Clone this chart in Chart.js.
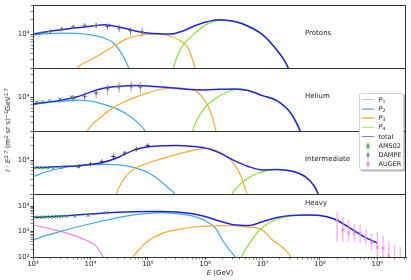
<!DOCTYPE html>
<html>
<head>
<meta charset="utf-8">
<script src="https://cdn.jsdelivr.net/npm/chart.js@4.4.1/dist/chart.umd.min.js"></script>
<style>
  html, body { margin: 0; padding: 0; background: #fff; }
  #wrap { position: relative; width: 411px; height: 280px; font-family: "DejaVu Sans", sans-serif; color: #222; overflow: hidden; }
  #chart { position: absolute; left: 0; top: 0; }
  .lab { position: absolute; font-size: 7px; line-height: 8px; white-space: nowrap; }
  sup { font-size: 5px; vertical-align: 2.5px; line-height: 0; }
  sub { font-size: 4.6px; vertical-align: -1.2px; line-height: 0; }
  #ytitle { position: absolute; left: 8px; top: 130px; transform: translate(-50%, -50%) rotate(-90deg); font-size: 7px; white-space: nowrap; line-height: 8px; }
  #legend { position: absolute; left: 359px; top: 93px; width: 45px; height: 77px; border: 1px solid #d4d4d4; border-radius: 2px; background: #fff; box-shadow: 1.5px 1.5px 0 rgba(0,0,0,0.28); box-sizing: border-box; }
  #legend .row { position: absolute; left: 0; height: 8px; width: 44px; }
  #legend .ln { position: absolute; left: 2px; top: 3.3px; width: 11.5px; height: 1.5px; }
  #legend .tx { position: absolute; left: 18.5px; top: 0; font-size: 6.5px; line-height: 8px; white-space: nowrap; }
  #legend svg { position: absolute; left: 2px; top: 0; }
</style>
</head>
<body>
<div id="wrap">
  <canvas id="chart" width="411" height="280"></canvas>
  <div class="lab" style="left:305px;top:29px">Protons</div>
  <div class="lab" style="left:305px;top:92px">Helium</div>
  <div class="lab" style="left:305px;top:155px">Intermediate</div>
  <div class="lab" style="left:305px;top:199px">Heavy</div>
  <div class="lab" style="left:220px;top:268.5px;transform:translateX(-50%)"><i>E</i> (GeV)</div>
  <div id="ytitle"><i>I</i> · <i>E</i><sup>2.7</sup> (m<sup>2</sup> sr s)<sup>−1</sup>GeV<sup>1.7</sup></div>
  <div id="legend">
    <div class="row" style="top:1.7px"><span class="ln" style="background:rgba(238,130,238,0.6)"></span><span class="tx"><i>P</i><sub>1</sub></span></div>
    <div class="row" style="top:10.9px"><span class="ln" style="background:rgba(63,169,245,0.6)"></span><span class="tx"><i>P</i><sub>2</sub></span></div>
    <div class="row" style="top:20.1px"><span class="ln" style="background:rgba(255,166,43,0.7)"></span><span class="tx"><i>P</i><sub>3</sub></span></div>
    <div class="row" style="top:29.3px"><span class="ln" style="background:rgba(133,230,44,0.7)"></span><span class="tx"><i>P</i><sub>4</sub></span></div>
    <div class="row" style="top:38.5px"><span class="ln" style="background:rgba(43,43,223,0.6)"></span><span class="tx">total</span></div>
    <div class="row" style="top:47.7px"><svg width="12" height="8"><line x1="6" y1="0.5" x2="6" y2="7.5" stroke="#2ca02c" stroke-width="1"/><path d="M4.3 2.3 L7.7 5.7 M7.7 2.3 L4.3 5.7" stroke="#2ca02c" stroke-width="1"/></svg><span class="tx">AMS02</span></div>
    <div class="row" style="top:56.9px"><svg width="12" height="8"><line x1="6" y1="0.5" x2="6" y2="7.5" stroke="#999" stroke-width="1"/><path d="M6 2 L6 6 M4 4 L8 4" stroke="#777" stroke-width="1"/></svg><span class="tx">DAMPE</span></div>
    <div class="row" style="top:66.1px"><svg width="12" height="8"><line x1="6" y1="0.5" x2="6" y2="7.5" stroke="rgba(238,130,238,0.6)" stroke-width="1.5"/><path d="M4.3 2.3 L7.7 5.7 M7.7 2.3 L4.3 5.7" stroke="#e07be0" stroke-width="1"/></svg><span class="tx">AUGER</span></div>
  </div>
</div>
<script>
// axis ranges
const xMin = 1e3, xMax = 3.162e9;
const yLightMin = 2e3, yLightMax = 4e4;
const yHeavyMin = 1e2, yHeavyMax = 3e4;

// Protons
const protonTotalE = [1e3, 1.778e3, 3.162e3, 5.623e3, 1e4, 1.778e4, 3.162e4, 5.623e4, 1e5, 1.778e5, 2.512e5, 3.981e5, 6.31e5, 1e6, 1.778e6, 3.162e6, 5.623e6, 1e7, 1.585e7, 2.512e7, 3.162e7];
const protonTotal = [1.02e4, 1.135e4, 1.245e4, 1.365e4, 1.47e4, 1.58e4, 1.42e4, 1.2e4, 1.06e4, 1.02e4, 1.01e4, 1.16e4, 1.47e4, 1.78e4, 2.0e4, 1.86e4, 1.47e4, 9.85e3, 5.57e3, 2.62e3, 1.48e3];
const protonP2E = [1e3, 1.778e3, 3.162e3, 5.623e3, 1e4, 1.585e4, 2.512e4, 3.548e4, 4.677e4, 5.623e4];
const protonP2 = [9.77e3, 1.03e4, 1.064e4, 1.047e4, 9.77e3, 8.71e3, 6.61e3, 3.89e3, 2.0e3, 1.12e3];
const protonP3E = [5.012e3, 6.31e3, 1e4, 1.585e4, 2.512e4, 3.981e4, 6.31e4, 1e5, 1.585e5, 2.512e5, 3.548e5, 5.012e5, 6.31e5, 7.079e5];
const protonP3 = [1.41e3, 2.19e3, 2.95e3, 4.07e3, 5.62e3, 7.76e3, 9.33e3, 1.01e4, 1.023e4, 9.12e3, 7.59e3, 5.25e3, 2.51e3, 1.41e3];
const protonP4E = [2.512e5, 2.818e5, 3.162e5, 3.981e5, 6.31e5, 1e6, 1.778e6, 3.162e6, 5.623e6, 1e7, 1.585e7, 2.512e7, 3.162e7];
const protonP4 = [1.0e3, 2.04e3, 3.16e3, 5.62e3, 1.0e4, 1.55e4, 1.95e4, 1.85e4, 1.46e4, 9.77e3, 5.56e3, 2.6e3, 1.48e3];

// Helium
const heliumTotalE = [1e3, 1.778e3, 3.162e3, 5.623e3, 1e4, 1.778e4, 3.162e4, 5.623e4, 1e5, 1.778e5, 3.162e5, 5.623e5, 1e6, 1.778e6, 3.162e6, 5.623e6, 1e7, 1.778e7, 3.162e7, 4.467e7, 5.248e7];
const heliumTotal = [7.28e3, 7.94e3, 8.73e3, 1.01e4, 1.28e4, 1.55e4, 1.68e4, 1.75e4, 1.71e4, 1.63e4, 1.53e4, 1.44e4, 1.42e4, 1.46e4, 1.49e4, 1.38e4, 1.08e4, 8.51e3, 4.57e3, 2.09e3, 1.26e3];
const heliumP2E = [1e3, 1.778e3, 3.162e3, 5.623e3, 1e4, 1.778e4, 3.162e4, 5.012e4, 7.079e4, 8.913e4, 1.122e5];
const heliumP2 = [7.05e3, 7.76e3, 8.24e3, 8.73e3, 8.32e3, 7.05e3, 5.5e3, 3.98e3, 2.82e3, 2.03e3, 1.12e3];
const heliumP3E = [7.943e3, 8.913e3, 1e4, 1.585e4, 2.512e4, 3.981e4, 6.31e4, 1e5, 1.585e5, 3.162e5, 5.012e5, 7.079e5, 1e6, 1.259e6, 1.549e6, 1.778e6];
const heliumP3 = [1.41e3, 2.04e3, 2.51e3, 4.07e3, 6.17e3, 8.13e3, 1.02e4, 1.23e4, 1.45e4, 1.57e4, 1.48e4, 1.32e4, 8.32e3, 4.79e3, 2.0e3, 1.12e3];
const heliumP4E = [5.012e5, 6.026e5, 7.079e5, 1e6, 1.585e6, 2.512e6, 3.981e6, 5.623e6, 1e7, 1.778e7, 3.162e7, 4.467e7, 5.248e7];
const heliumP4 = [1e3, 2.04e3, 3.31e3, 6.17e3, 9.77e3, 1.32e4, 1.49e4, 1.37e4, 1.08e4, 8.47e3, 4.55e3, 2.08e3, 1.26e3];

// Intermediate
const interTotalE = [1e3, 1.778e3, 3.162e3, 5.623e3, 1e4, 1.778e4, 3.162e4, 5.623e4, 1e5, 1.778e5, 3.162e5, 5.623e5, 1e6, 1.778e6, 3.162e6, 5.623e6, 1e7, 1.778e7, 3.162e7, 5.623e7, 7.943e7, 9.333e7, 1.122e8];
const interTotal = [7.03e3, 7.16e3, 7.45e3, 7.62e3, 8.18e3, 9.23e3, 1.17e4, 1.6e4, 1.89e4, 2.0e4, 2.01e4, 1.95e4, 1.8e4, 1.42e4, 9.91e3, 7.45e3, 6.31e3, 6.46e3, 6.0e3, 4.51e3, 2.93e3, 2.0e3, 1.12e3];
const interP2E = [1e3, 1.778e3, 3.162e3, 5.623e3, 1e4, 1.778e4, 3.162e4, 5.623e4, 1e5, 1.585e5, 2.239e5, 2.951e5, 3.548e5];
const interP2 = [4.57e3, 5.86e3, 6.92e3, 7.69e3, 8.11e3, 8.18e3, 8.0e3, 7.1e3, 5.58e3, 3.89e3, 2.73e3, 2.0e3, 1.26e3];
const interP3E = [2.512e4, 2.818e4, 3.548e4, 5.012e4, 7.943e4, 1.259e5, 1.995e5, 3.162e5, 5.012e5, 7.943e5, 1.122e6, 1.585e6, 2.239e6, 3.162e6, 4.169e6, 5.37e6, 6.026e6];
const interP3 = [1.12e3, 2.0e3, 3.55e3, 5.89e3, 7.94e3, 9.55e3, 1.12e4, 1.32e4, 1.51e4, 1.7e4, 1.76e4, 1.58e4, 1.26e4, 8.51e3, 4.79e3, 2.0e3, 1.12e3];
const interP4E = [2.63e6, 2.951e6, 3.548e6, 5.012e6, 7.943e6, 1.259e7, 1.778e7, 3.162e7, 5.623e7, 7.943e7, 9.333e7, 1.122e8];
const interP4 = [1.12e3, 2.0e3, 2.69e3, 3.89e3, 5.25e3, 6.17e3, 6.43e3, 5.97e3, 4.49e3, 2.92e3, 1.99e3, 1.12e3];

// Heavy
const heavyTotalE = [1e3, 1.778e3, 3.162e3, 5.623e3, 1e4, 1.778e4, 3.162e4, 5.623e4, 1e5, 1.778e5, 3.162e5, 5.623e5, 1e6, 1.778e6, 3.162e6, 5.623e6, 1e7, 1.778e7, 3.162e7, 5.623e7, 1e8, 1.778e8, 3.162e8, 5.623e8, 1e9];
const heavyTotal = [3.64e3, 3.8e3, 4.09e3, 4.48e3, 4.9e3, 5.37e3, 5.77e3, 6.04e3, 6.15e3, 6.15e3, 5.87e3, 5.13e3, 3.91e3, 2.6e3, 1.85e3, 1.73e3, 2.44e3, 3.57e3, 4.29e3, 4.48e3, 4.29e3, 3.12e3, 1.51e3, 660, 355];
const heavyP1E = [1e3, 1.778e3, 3.162e3, 5.623e3, 1e4, 1.259e4, 1.585e4, 1.778e4];
const heavyP1 = [1.82e3, 1.38e3, 1.0e3, 661, 380, 263, 126, 79];
const heavyP2E = [1e3, 1.778e3, 3.162e3, 5.623e3, 1e4, 1.778e4, 3.162e4, 5.623e4, 1e5, 1.778e5, 3.162e5, 5.623e5, 7.943e5, 1e6, 1.318e6, 1.585e6, 1.995e6, 2.512e6, 3.467e6, 3.981e6];
const heavyP2 = [468, 724, 1.05e3, 1.48e3, 2.04e3, 2.75e3, 3.63e3, 4.57e3, 5.25e3, 5.56e3, 5.13e3, 4.27e3, 3.39e3, 2.69e3, 1.82e3, 1.2e3, 468, 224, 89, 50];
const heavyP3E = [5.012e4, 5.623e4, 7.079e4, 1e5, 1.778e5, 3.162e5, 5.623e5, 1e6, 1.778e6, 3.162e6, 5.623e6, 1e7, 1.413e7, 1.995e7, 2.512e7, 3.162e7, 3.548e7];
const heavyP3 = [63, 105, 200, 417, 851, 1.17e3, 1.45e3, 1.62e3, 1.72e3, 1.7e3, 1.51e3, 1.15e3, 525, 288, 186, 100, 63];
const heavyP4E = [3.548e6, 4.169e6, 5.012e6, 6.531e6, 8.71e6, 1.122e7, 1.445e7, 1.995e7, 2.512e7, 3.162e7, 5.623e7, 1e8, 1.778e8, 3.162e8, 5.623e8, 1e9];
const heavyP4 = [50, 89, 190, 468, 1.12e3, 1.78e3, 2.51e3, 3.31e3, 3.8e3, 4.22e3, 4.45e3, 4.27e3, 3.1e3, 1.49e3, 650, 350];

// measurements
const amsProtonE = [1.41e3];
const amsProton = [1.07e4];
const amsProtonErr = [300];
const dampeProtonE = [1.995e3, 3.162e3, 5.012e3, 7.943e3, 1.259e4, 1.995e4, 3.162e4, 5.012e4, 7.943e4];
const dampeProton = [1.148e4, 1.288e4, 1.416e4, 1.503e4, 1.524e4, 1.455e4, 1.349e4, 1.189e4, 1.117e4];
const dampeProtonErr = [800, 1000, 1300, 1700, 2100, 2400, 2500, 2400, 2300];

const amsHeliumE = [1.16e3, 1.47e3, 1.97e3, 2.94e3, 4.7e3];
const amsHelium = [8.0e3, 8.0e3, 8.5e3, 9.2e3, 1.02e4];
const amsHeliumErr = [200, 200, 250, 300, 400];
const dampeHeliumE = [5.012e3, 7.943e3, 1.259e4, 1.995e4, 3.162e4, 5.129e4, 7.413e4];
const dampeHelium = [9.38e3, 1.047e4, 1.23e4, 1.49e4, 1.64e4, 1.70e4, 1.64e4];
const dampeHeliumErr = [1500, 2200, 2800, 3500, 4000, 4300, 4500];

const amsInterE = [1.08e3, 1.29e3, 1.51e3, 1.80e3, 2.25e3, 3.14e3, 6.1e3];
const amsInter = [7.0e3, 7.0e3, 7.0e3, 7.0e3, 7.0e3, 7.05e3, 7.4e3];
const amsInterErr = [150, 150, 150, 150, 150, 200, 250];
const dampeInterE = [6.31e3, 1e4, 1.585e4, 2.512e4, 3.981e4, 6.31e4, 1e5];
const dampeInter = [7.5e3, 8.26e3, 9.35e3, 1.19e4, 1.4e4, 1.69e4, 2.0e4];
const dampeInterErr = [250, 300, 400, 500, 600, 800, 1000];

const amsHeavyE = [1.08e3, 1.29e3, 1.47e3, 1.73e3, 1.97e3, 2.34e3, 2.75e3, 3.15e3, 3.84e3, 5.35e3, 9.1e3, 1.9e4];
const amsHeavy = [3630, 3670, 3720, 3760, 3800, 3850, 3890, 3940, 3980, 4070, 4370, 5500];
const amsHeavyErr = [150, 150, 150, 150, 150, 160, 160, 170, 180, 200, 250, 400];

const augerE = [1.995e8, 2.512e8, 3.162e8, 3.981e8, 5.012e8, 6.31e8, 7.943e8, 1e9, 1.259e9, 1.585e9, 1.995e9, 2.512e9, 3.162e9];
const auger = [2820, 1150, 890, 850, 850, 550, 380, 240, 220, 112, 79, 63, 50];
const augerLow = [400, 400, 400, 400, 350, 300, 190, 100, 100, 30, 30, 30, 30];
const augerHigh = [6000, 3600, 2900, 2000, 1800, 1150, 850, 1000, 680, 400, 300, 250, 250];

const cP1 = '#ee82ee', cP2 = '#3fa9f5', cP3 = '#ffa62b', cP4 = '#85e62c', cTot = '#2323e6';

function curve(E, V, axis, color, width) {
  return {
    data: E.map((e, i) => ({ x: e, y: V[i] })),
    yAxisID: axis, borderColor: color, borderWidth: width,
    pointRadius: 0, fill: false, cubicInterpolationMode: 'monotone'
  };
}
function points(E, V, lo, hi, axis, color, barColor, style, barWidth) {
  return {
    data: E.map((e, i) => ({ x: e, y: V[i] })),
    yAxisID: axis, showLine: false, pointStyle: style, pointRadius: 2.2,
    pointBorderColor: color, pointBackgroundColor: color, pointBorderWidth: 1,
    yLow: lo, yHigh: hi, barColor: barColor, barWidth: barWidth || 1
  };
}
const minus = (V, err) => V.map((v, i) => v - err[i]);
const plus = (V, err) => V.map((v, i) => v + err[i]);

// listed bottom layer first
const datasets = [
  curve(protonP2E, protonP2, 'yP', cP2, 1.2), curve(protonP3E, protonP3, 'yP', cP3, 1.2),
  curve(protonP4E, protonP4, 'yP', cP4, 1.2), curve(protonTotalE, protonTotal, 'yP', cTot, 1.5),
  curve(heliumP2E, heliumP2, 'yHe', cP2, 1.2), curve(heliumP3E, heliumP3, 'yHe', cP3, 1.2),
  curve(heliumP4E, heliumP4, 'yHe', cP4, 1.2), curve(heliumTotalE, heliumTotal, 'yHe', cTot, 1.5),
  curve(interP2E, interP2, 'yI', cP2, 1.2), curve(interP3E, interP3, 'yI', cP3, 1.2),
  curve(interP4E, interP4, 'yI', cP4, 1.2), curve(interTotalE, interTotal, 'yI', cTot, 1.5),
  curve(heavyP1E, heavyP1, 'yH', cP1, 1.2), curve(heavyP2E, heavyP2, 'yH', cP2, 1.2),
  curve(heavyP3E, heavyP3, 'yH', cP3, 1.2), curve(heavyP4E, heavyP4, 'yH', cP4, 1.2),
  curve(heavyTotalE, heavyTotal, 'yH', cTot, 1.5),
  points(dampeProtonE, dampeProton, minus(dampeProton, dampeProtonErr), plus(dampeProton, dampeProtonErr), 'yP', '#666', 'rgba(140,140,140,0.8)', 'cross'),
  points(amsProtonE, amsProton, minus(amsProton, amsProtonErr), plus(amsProton, amsProtonErr), 'yP', '#2ca02c', '#2ca02c', 'crossRot'),
  points(dampeHeliumE, dampeHelium, minus(dampeHelium, dampeHeliumErr), plus(dampeHelium, dampeHeliumErr), 'yHe', '#666', 'rgba(140,140,140,0.8)', 'cross'),
  points(amsHeliumE, amsHelium, minus(amsHelium, amsHeliumErr), plus(amsHelium, amsHeliumErr), 'yHe', '#2ca02c', '#2ca02c', 'crossRot'),
  points(amsInterE, amsInter, minus(amsInter, amsInterErr), plus(amsInter, amsInterErr), 'yI', '#2ca02c', '#2ca02c', 'crossRot'),
  points(dampeInterE, dampeInter, minus(dampeInter, dampeInterErr), plus(dampeInter, dampeInterErr), 'yI', '#444', 'rgba(80,80,80,0.8)', 'cross'),
  points(amsHeavyE, amsHeavy, minus(amsHeavy, amsHeavyErr), plus(amsHeavy, amsHeavyErr), 'yH', '#2ca02c', '#2ca02c', 'crossRot'),
  points(augerE, auger, augerLow, augerHigh, 'yH', '#e07be0', 'rgba(238,130,238,0.55)', 'crossRot', 1.6)
];
// Chart.js paints lower "order" last, so later entries end up on top
datasets.forEach((d, i) => { d.order = -i; });

const isMajor = v => Math.abs(Math.log10(v) - Math.round(Math.log10(v))) < 1e-6;
const supDigits = { '0': '⁰', '1': '¹', '2': '²', '3': '³', '4': '⁴', '5': '⁵', '6': '⁶', '7': '⁷', '8': '⁸', '9': '⁹' };
const powLabel = v => isMajor(v) ? '10' + String(Math.round(Math.log10(v))).split('').map(d => supDigits[d]).join('') : '';
const niceTicks = s => { s.ticks = s.ticks.filter(t => { const m = t.value / Math.pow(10, Math.floor(Math.log10(t.value) + 1e-9)); return Math.abs(m - Math.round(m)) < 1e-6; }); };

function yAxis(min, max) {
  return {
    type: 'logarithmic', position: 'left', stack: 'panels', stackWeight: 1, min: min, max: max,
    grid: { drawOnChartArea: false, drawTicks: true, tickLength: 2.5, tickColor: '#333', tickWidth: c => (c.tick && isMajor(c.tick.value)) ? 1 : 0.6 },
    border: { display: true, color: '#333', width: 1 },
    ticks: { autoSkip: false, padding: 1, color: '#222', font: { size: 7 }, callback: v => powLabel(v) },
    afterBuildTicks: niceTicks,
    afterFit: s => { s.width = 33; }
  };
}

// clip each dataset to its own panel and draw error bars under the markers
const panelPlugin = {
  id: 'panelPlugin',
  beforeDatasetDraw(chart, args) {
    const ds = chart.data.datasets[args.index];
    const ys = chart.scales[ds.yAxisID], xs = chart.scales.x, a = chart.chartArea, ctx = chart.ctx;
    ctx.save();
    ctx.beginPath();
    ctx.rect(a.left, ys.top, a.right - a.left, ys.bottom - ys.top);
    ctx.clip();
    if (ds.yLow) {
      ctx.strokeStyle = ds.barColor;
      ctx.lineWidth = ds.barWidth;
      ds.data.forEach((p, i) => {
        const px = xs.getPixelForValue(p.x);
        const lo = Math.max(ds.yLow[i], ys.min * 0.5);
        ctx.beginPath();
        ctx.moveTo(px, ys.getPixelForValue(lo));
        ctx.lineTo(px, ys.getPixelForValue(ds.yHigh[i]));
        ctx.stroke();
      });
    }
  },
  afterDatasetDraw(chart) { chart.ctx.restore(); },
  afterDraw(chart) {
    const ctx = chart.ctx, a = chart.chartArea;
    ctx.save();
    ctx.strokeStyle = '#333';
    ctx.lineWidth = 1;
    ['yP', 'yHe', 'yI', 'yH'].forEach(id => {
      const s = chart.scales[id];
      ctx.strokeRect(Math.round(a.left) + 0.5, Math.round(s.top) + 0.5, Math.round(a.right - a.left) - 1, Math.round(s.bottom - s.top));
    });
    ctx.restore();
  }
};

Chart.defaults.font.family = 'DejaVu Sans';
Chart.defaults.font.size = 7;

new Chart(document.getElementById('chart').getContext('2d'), {
  type: 'line',
  data: { datasets: datasets },
  options: {
    responsive: false, animation: false, devicePixelRatio: 1,
    layout: { padding: { left: 0, right: 3, top: 5, bottom: 0 } },
    plugins: { legend: { display: false }, tooltip: { enabled: false } },
    scales: {
      x: {
        type: 'logarithmic', position: 'bottom', min: xMin, max: xMax,
        grid: { drawOnChartArea: false, drawTicks: true, tickLength: 2.5, tickColor: '#333', tickWidth: c => (c.tick && isMajor(c.tick.value)) ? 1 : 0.6 },
        border: { display: true, color: '#333', width: 1 },
        ticks: { autoSkip: false, maxRotation: 0, padding: 0, color: '#222', font: { size: 7 }, callback: v => powLabel(v) },
        afterBuildTicks: niceTicks,
        afterFit: s => { s.height = 23; }
      },
      yH: yAxis(yHeavyMin, yHeavyMax),
      yI: yAxis(yLightMin, yLightMax),
      yHe: yAxis(yLightMin, yLightMax),
      yP: yAxis(yLightMin, yLightMax)
    }
  },
  plugins: [panelPlugin]
});
</script>
</body>
</html>
